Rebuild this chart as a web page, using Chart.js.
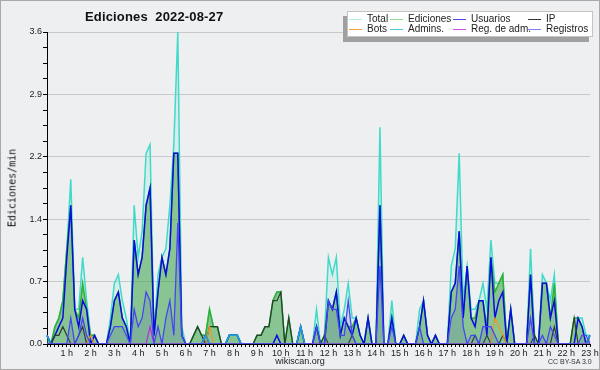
<!DOCTYPE html>
<html><head><meta charset="utf-8">
<script src="https://cdn.jsdelivr.net/npm/chart.js@4.4.1/dist/chart.umd.min.js"></script>
<style>
html,body{margin:0;padding:0;background:#eeeff1;}
#wrap{position:relative;width:600px;height:370px;background:#eeeff1;overflow:hidden;font-family:'Liberation Sans',Arial,sans-serif;}
#c{position:absolute;left:0;top:0;}
#frame{position:absolute;left:0;top:0;width:600px;height:370px;box-sizing:border-box;border:1px solid #a8a8a8;pointer-events:none;}
#title{position:absolute;left:85px;top:9px;font:bold 13px 'Liberation Sans';color:#111;white-space:pre;letter-spacing:0.15px;}
#ylab{position:absolute;left:12px;top:188px;font:10px 'DejaVu Sans Mono';color:#111;transform:translate(-50%,-50%) rotate(-90deg);white-space:nowrap;}
#legend{position:absolute;left:347px;top:11px;width:246px;height:26px;box-sizing:border-box;background:#fff;border:1px solid #c4c4c4;box-shadow:-4px 5px 0 #a0a0a0;font:10px 'Liberation Sans';color:#222;}
.item{position:absolute;height:10px;line-height:10px;white-space:nowrap;}
.item i{display:inline-block;width:13px;height:0;border-top:1px solid;vertical-align:middle;margin-right:5px;}
#foot{position:absolute;left:0;width:600px;top:356px;text-align:center;font:9px 'Liberation Sans';color:#222;}
#cc{position:absolute;left:548px;top:358px;font:7px 'Liberation Sans';color:#333;white-space:nowrap;}
</style></head>
<body>
<div id="wrap">
<canvas id="c" width="600" height="370"></canvas>
<div id="title">Ediciones  2022-08-27</div>
<div id="ylab">Ediciones/min</div>
<div id="legend">
 <div class="item" style="left:1px;top:2px"><i style="color:#a8ece4"></i>Total</div>
 <div class="item" style="left:42px;top:2px"><i style="color:#8fd88f"></i>Ediciones</div>
 <div class="item" style="left:105px;top:2px"><i style="color:#4a4ae8"></i>Usuarios</div>
 <div class="item" style="left:180px;top:2px"><i style="color:#333"></i>IP</div>
 <div class="item" style="left:1px;top:12px"><i style="color:#f0a040"></i>Bots</div>
 <div class="item" style="left:42px;top:12px"><i style="color:#50c8e0"></i>Admins.</div>
 <div class="item" style="left:105px;top:12px"><i style="color:#d050e8"></i>Reg. de adm.</div>
 <div class="item" style="left:180px;top:12px"><i style="color:#8080f0"></i>Registros</div>
</div>
<div id="foot">wikiscan.org</div>
<div id="cc">CC BY-SA 3.0</div>
<div id="frame"></div>
</div>
<script>
// 10-minute slots, index i = time (i+1)*10 min, 00:10 .. 23:00
const hourLabels = ["1 h","2 h","3 h","4 h","5 h","6 h","7 h","8 h","9 h","10 h","11 h","12 h","13 h","14 h","15 h","16 h","17 h","18 h","19 h","20 h","21 h","22 h","23 h"];
const yTickLabels = ["0.0","0.7","1.4","2.2","2.9","3.6"];

const total = [
0.1,0,0.2,0.3,0.5,1.1,1.9,0.4,0.4,1.0,0.5,0.1,
0.1,0,0,0,0.3,0.7,0.8,0.5,0.3,0,1.6,1.0,
1.3,2.2,2.3,0.1,0.8,1.0,1.1,1.6,2.3,3.6,0.2,0,
0,0.1,0.2,0.1,0.1,0.4,0.2,0.2,0,0,0.1,0.1,
0.1,0,0,0,0,0.1,0.1,0.2,0.2,0.5,0.6,0.6,
0,0.3,0,0,0.2,0,0,0,0.4,0,0.1,1.0,
0.8,1.0,0.2,0.4,0.7,0.3,0.3,0.1,0,0.3,0,0,
2.5,0,0,0.5,0,0,0.1,0,0,0,0.4,0.5,
0.1,0,0.1,0,0,0,0.9,1.1,2.2,0.5,0.9,0.4,
0.4,0.5,0.7,0.4,1.2,0.7,0.7,0.8,0,0.4,0,0,
0,0,1.1,0.1,0,0.8,0.7,0.5,0.8,0,0,0,
0,0.3,0.3,0.3,0.1,0.1];

const ediciones = [
0.1,0,0.2,0.3,0.5,1.1,1.6,0.4,0.3,0.7,0.4,0.1,
0.1,0,0,0,0.2,0.5,0.6,0.3,0.2,0,1.2,0.8,
1.0,1.6,1.8,0.1,0.6,1.0,0.8,1.1,2.2,2.2,0.1,0,
0,0.1,0.2,0.1,0.1,0.4,0.2,0.2,0,0,0.1,0.1,
0.1,0,0,0,0,0.1,0.1,0.2,0.2,0.5,0.6,0.6,
0,0.3,0,0,0.2,0,0,0,0.2,0,0.1,0.5,
0.4,0.6,0.1,0.3,0.2,0.2,0.3,0.1,0,0.3,0,0,
1.6,0,0,0.3,0,0,0.1,0,0,0,0.2,0.5,
0.1,0,0.1,0,0,0,0.6,0.7,1.3,0.3,0.9,0.3,
0.3,0.5,0.5,0.2,1.0,0.6,0.7,0.8,0,0.4,0,0,
0,0,0.8,0.1,0,0.7,0.7,0.3,0.7,0,0,0,
0,0.3,0.3,0.2,0,0.1];

const usuarios = [
0.1,0,0.1,0.2,0.3,1.0,1.6,0.4,0.2,0.5,0.4,0,
0.1,0,0,0,0.2,0.5,0.6,0.3,0.2,0,1.2,0.8,
1.0,1.6,1.8,0.1,0.6,1.0,0.8,1.1,2.2,2.2,0.1,0,
0,0,0,0,0.1,0,0,0,0,0,0.1,0.1,
0.1,0,0,0,0,0,0,0,0,0,0.1,0,
0,0,0,0,0.2,0,0,0,0.2,0,0,0.5,
0.4,0.6,0.1,0.3,0.2,0.1,0.3,0.1,0,0.3,0,0,
1.6,0,0,0.3,0,0,0.1,0,0,0,0.2,0.5,
0.1,0,0.1,0,0,0,0.6,0.7,1.3,0.3,0.9,0.3,
0.2,0.5,0.5,0.1,1.0,0.3,0.5,0.6,0,0.4,0,0,
0,0,0.8,0,0,0.7,0.7,0.3,0.5,0,0,0,
0,0,0.3,0.2,0,0.1];

const ip = [
0,0,0.1,0.1,0.2,0.1,0,0,0.1,0.2,0,0,
0,0,0,0,0,0,0,0,0,0,0,0,
0,0,0,0,0,0,0,0,0,0,0,0,
0,0.1,0.2,0.1,0,0.2,0.2,0.2,0,0,0,0,
0,0,0,0,0,0.1,0.1,0.2,0.2,0.5,0.5,0.6,
0,0.3,0,0,0,0,0,0,0,0,0.1,0,
0,0,0,0,0,0.1,0,0,0,0,0,0,
0,0,0,0,0,0,0,0,0,0,0,0,
0,0,0,0,0,0,0,0,0,0,0,0,
0.1,0,0,0.1,0,0,0,0.1,0,0,0,0,
0,0,0,0.1,0,0,0,0,0.2,0,0,0,
0,0.3,0,0,0,0];

const bots = [
0,0,0,0,0,0,0,0,0,0,0,0.1,
0,0,0,0,0,0,0,0,0,0,0,0,
0,0,0,0,0,0,0,0,0,0,0,0,
0,0,0,0,0,0.2,0,0,0,0,0,0,
0,0,0,0,0,0,0,0,0,0,0,0,
0,0,0,0,0,0,0,0,0,0,0,0,
0,0,0,0,0,0,0,0,0,0,0,0,
0,0,0,0,0,0,0,0,0,0,0,0,
0,0,0,0,0,0,0,0,0,0,0,0,
0,0,0,0,0,0.3,0.2,0.1,0,0,0,0,
0,0,0,0,0,0,0,0,0,0,0,0,
0,0,0,0,0,0];

const admins = [
0.1,0,0,0,0,0,0,0,0,0,0,0,
0,0,0,0,0,0,0,0,0,0,0,0,
0,0,0,0,0,0,0,0,0,0,0,0,
0,0,0,0,0.1,0,0,0,0,0,0.1,0.1,
0.1,0,0,0,0,0,0,0,0,0,0,0,
0,0,0,0,0.2,0,0,0,0,0,0,0,
0,0,0,0,0,0,0,0,0,0,0,0,
0,0,0,0,0,0,0,0,0,0,0,0,
0,0,0,0,0,0,0,0,0,0,0,0,
0,0,0,0,0,0,0,0,0,0,0,0,
0,0,0,0,0,0,0,0,0,0,0,0,
0,0,0,0,0,0.1];

const regAdm = [
0,0,0,0,0,0,0,0,0,0,0,0,
0,0,0,0,0,0,0,0,0,0,0,0,
0,0,0.2,0,0,0,0,0,0,0,0,0,
0,0,0,0,0,0,0,0,0,0,0,0,
0,0,0,0,0,0,0,0,0,0,0,0,
0,0,0,0,0,0,0,0,0,0,0,0,
0,0,0,0,0,0,0,0,0,0,0,0,
0,0,0,0,0,0,0,0,0,0,0,0,
0,0,0,0,0,0,0,0,0,0,0,0,
0,0,0,0,0,0,0,0,0,0,0,0,
0,0,0,0,0,0,0,0,0,0,0,0,
0,0,0,0,0,0];

const registros = [
0,0,0,0,0,0,0.3,0,0.1,0.3,0.1,0,
0,0,0,0,0.1,0.2,0.2,0.2,0.1,0,0.4,0.2,
0.3,0.6,0.5,0,0.2,0,0.3,0.5,0.1,1.4,0.1,0,
0,0,0,0,0,0,0,0,0,0,0,0,
0,0,0,0,0,0,0,0,0,0,0,0,
0,0,0,0,0,0,0,0,0.2,0,0,0.5,
0.4,0.4,0.1,0.1,0.5,0.1,0,0,0,0,0,0,
0.9,0,0,0.2,0,0,0,0,0,0,0.2,0,
0,0,0,0,0,0,0.3,0.4,0.9,0.2,0,0.1,
0.1,0,0.2,0.2,0.2,0.1,0,0,0,0,0,0,
0,0,0.3,0,0,0.1,0,0.2,0.1,0,0,0,
0,0,0,0.1,0.1,0];

// category labels (time of each 10-minute slot)
const slots = [];
for (let i = 0; i < total.length; i++) {
  const m = (i + 1) * 10;
  slots.push(String(Math.floor(m / 60)).padStart(2, '0') + ':' + String(m % 60).padStart(2, '0'));
}
const yTickValues = [];
for (let k = 0; k <= 20; k++) yTickValues.push(+(k * 0.18).toFixed(2));

function ds(label, data, color, width, order, fillColor) {
  return {
    label, data, borderColor: color, borderWidth: width, order,
    pointRadius: 0, tension: 0,
    fill: fillColor ? 'origin' : false,
    backgroundColor: fillColor || color
  };
}

new Chart(document.getElementById('c'), {
  type: 'line',
  data: {
    labels: slots,
    datasets: [
      ds('Total', total, 'rgb(64,218,200)', 1.5, 8, 'rgba(64,224,208,0.13)'),
      ds('Ediciones', ediciones, 'rgb(48,176,48)', 1.5, 7, 'rgba(40,150,40,0.45)'),
      ds('Usuarios', usuarios, 'rgb(10,10,225)', 1.5, 6),
      ds('IP', ip, 'rgb(45,60,45)', 1.2, 5),
      ds('Bots', bots, 'rgb(240,150,30)', 1.2, 4),
      ds('Admins.', admins, 'rgb(30,160,220)', 1.5, 3),
      ds('Reg. de adm.', regAdm, 'rgb(200,40,220)', 1.2, 2),
      ds('Registros', registros, 'rgb(70,70,240)', 1.3, 1, 'rgba(70,70,200,0.14)')
    ]
  },
  options: {
    responsive: false,
    animation: false,
    devicePixelRatio: 1,
    layout: { padding: { left: 0, top: 32, right: 10, bottom: 0 } },
    plugins: { legend: { display: false }, tooltip: { enabled: false }, title: { display: false } },
    scales: {
      x: {
        type: 'category',
        offset: false,
        border: { display: true, color: '#000', width: 1 },
        grid: { display: true, drawOnChartArea: false, drawTicks: true, tickLength: 3, color: '#000', tickColor: '#000' },
        ticks: {
          autoSkip: false, maxRotation: 0, minRotation: 0, padding: 1,
          color: '#222', font: { family: 'Liberation Sans', size: 9 },
          callback: function (v, i) {
            const s = slots[i];
            if (s && s.endsWith(':00')) return hourLabels[parseInt(s, 10) - 1];
            return '';
          }
        },
        afterFit: s => { s.height = 26; }
      },
      y: {
        min: 0, max: 3.6,
        border: { display: true, color: '#000', width: 1 },
        grid: {
          display: true, drawTicks: true, tickLength: 4,
          color: ctx => (ctx.index % 4 === 0 ? '#c9c9c9' : 'rgba(0,0,0,0)'),
          tickColor: '#000'
        },
        ticks: {
          padding: 1, color: '#222', font: { family: 'Liberation Sans', size: 9 },
          callback: (v, i) => (i % 4 === 0 ? yTickLabels[i / 4] : '')
        },
        afterBuildTicks: s => { s.ticks = yTickValues.map(v => ({ value: v })); },
        afterFit: s => { s.width = 47; }
      }
    }
  }
});
</script>
</body></html>
